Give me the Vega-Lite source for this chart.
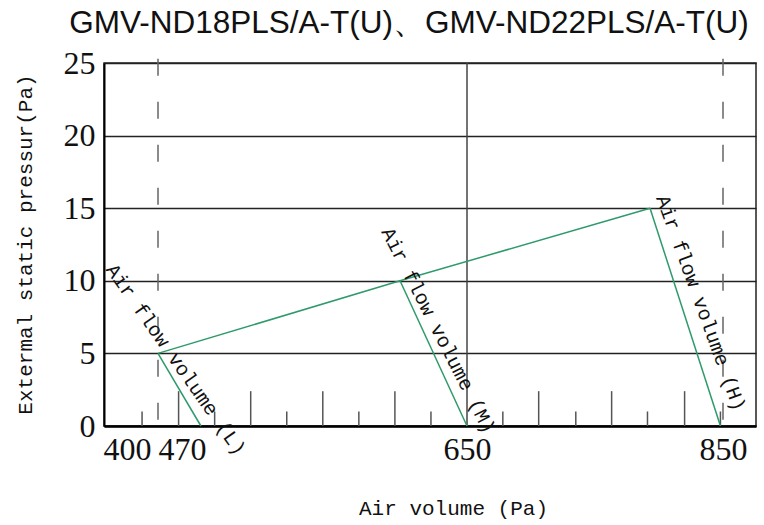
{
  "$schema": "https://vega.github.io/schema/vega-lite/v6.json",
  "autosize": "none",
  "padding": {"left": 104, "top": 63, "right": 8, "bottom": 99},
  "width": 652,
  "height": 363,
  "config": {"view": {"stroke": "#222", "strokeWidth": 1.5}},
  "title": {"text": "GMV-ND18PLS/A-T(U)、GMV-ND22PLS/A-T(U)", "font": "Liberation Sans", "fontSize": 31.5, "fontWeight": "normal", "color": "#111", "anchor": "middle", "dx": -21, "offset": 8},
  "datasets": {
    "ticks": [
      {"x": 434, "kind": "minor"}, {"x": 482, "kind": "major"}, {"x": 503, "kind": "minor"},
      {"x": 524, "kind": "major"}, {"x": 545, "kind": "minor"}, {"x": 566, "kind": "major"},
      {"x": 587, "kind": "minor"}, {"x": 608, "kind": "major"}, {"x": 629, "kind": "minor"},
      {"x": 678, "kind": "minor"}, {"x": 706, "kind": "major"}, {"x": 735, "kind": "minor"},
      {"x": 763, "kind": "major"}, {"x": 791, "kind": "minor"}, {"x": 820, "kind": "major"},
      {"x": 848, "kind": "minor"}
    ],
    "vlines": [
      {"x": 470, "kind": "dashed"}, {"x": 850, "kind": "dashed"}, {"x": 650, "kind": "solid"}
    ],
    "curve": [
      {"series": "top", "x": 470, "y": 5}, {"series": "top", "x": 611, "y": 10}, {"series": "top", "x": 793, "y": 15},
      {"series": "L", "x": 470, "y": 5}, {"series": "L", "x": 495, "y": 0},
      {"series": "M", "x": 611, "y": 10}, {"series": "M", "x": 650, "y": 0},
      {"series": "H", "x": 793, "y": 15}, {"series": "H", "x": 848, "y": 0}
    ],
    "labels": [
      {"level": "L", "text": "Air flow volume (L)", "x": 362, "y": 11.0},
      {"level": "M", "text": "Air flow volume (M)", "x": 603, "y": 13.57},
      {"level": "H", "text": "Air flow volume (H)", "x": 802, "y": 15.84}
    ]
  },
  "layer": [
    {
      "data": {"name": "ticks"},
      "transform": [{"filter": "datum.kind === 'major'"}],
      "mark": {"type": "rule", "color": "#555", "strokeWidth": 1.5},
      "encoding": {
        "x": {"field": "x", "type": "quantitative",
          "scale": {"domain": [348, 400, 470, 650, 850, 876], "range": [0, 23, 54, 363, 619, 652], "nice": false, "zero": false},
          "axis": {
            "values": [400, 470, 650, 850],
            "title": "Air volume (Pa)",
            "titleFont": "Liberation Mono", "titleFontSize": 21, "titleFontWeight": "normal", "titleColor": "#111",
            "titleX": 349, "titleY": 82, "titleBaseline": "middle", "titleAlign": "center",
            "labelFont": "Liberation Serif", "labelFontSize": 32, "labelColor": "#111",
            "labelPadding": 8, "labelOverlap": false, "labelFlush": false,
            "labelAlign": {"condition": {"test": "datum.value === 470", "value": "left"}, "value": "center"},
            "ticks": false, "grid": false,
            "domainColor": "#000", "domainWidth": 2.5
          }},
        "y": {"datum": 0, "type": "quantitative",
          "scale": {"domain": [0, 25], "nice": false},
          "axis": {
            "values": [0, 5, 10, 15, 20, 25],
            "title": "Extermal static pressur(Pa)",
            "titleFont": "Liberation Mono", "titleFontSize": 21, "titleFontWeight": "normal", "titleColor": "#111",
            "titleX": -79, "titleY": 181, "titleAngle": -90, "titleBaseline": "middle", "titleAlign": "center",
            "labelFont": "Liberation Serif", "labelFontSize": 32, "labelColor": "#111",
            "labelPadding": 9, "labelOverlap": false, "labelFlush": false,
            "ticks": false, "grid": true, "gridColor": "#222", "gridWidth": 1.3,
            "domainColor": "#000", "domainWidth": 2
          }},
        "y2": {"datum": 2.4}
      }
    },
    {
      "data": {"name": "ticks"},
      "transform": [{"filter": "datum.kind === 'minor'"}],
      "mark": {"type": "rule", "color": "#555", "strokeWidth": 1.5},
      "encoding": {
        "x": {"field": "x", "type": "quantitative"},
        "y": {"datum": 0, "type": "quantitative"},
        "y2": {"datum": 1.0}
      }
    },
    {
      "data": {"name": "vlines"},
      "transform": [{"filter": "datum.kind === 'dashed'"}],
      "mark": {"type": "rule", "color": "#666", "strokeWidth": 1.5, "strokeDash": [17, 26]},
      "encoding": {
        "x": {"field": "x", "type": "quantitative"},
        "y": {"datum": 25.3, "type": "quantitative"},
        "y2": {"datum": 0}
      }
    },
    {
      "data": {"name": "vlines"},
      "transform": [{"filter": "datum.kind === 'solid'"}],
      "mark": {"type": "rule", "color": "#444", "strokeWidth": 1.5},
      "encoding": {
        "x": {"field": "x", "type": "quantitative"},
        "y": {"datum": 25, "type": "quantitative"},
        "y2": {"datum": 0}
      }
    },
    {
      "data": {"name": "curve"},
      "mark": {"type": "line", "color": "#2e9a6b", "strokeWidth": 1.5},
      "encoding": {
        "x": {"field": "x", "type": "quantitative"},
        "y": {"field": "y", "type": "quantitative"},
        "detail": {"field": "series"}
      }
    },
    {
      "data": {"name": "labels"},
      "transform": [{"filter": "datum.level === 'L'"}],
      "mark": {"type": "text", "font": "Liberation Mono", "fontSize": 20, "color": "#111", "align": "left", "baseline": "middle", "angle": 55},
      "encoding": {
        "x": {"field": "x", "type": "quantitative"},
        "y": {"field": "y", "type": "quantitative"},
        "text": {"field": "text"}
      }
    },
    {
      "data": {"name": "labels"},
      "transform": [{"filter": "datum.level === 'M'"}],
      "mark": {"type": "text", "font": "Liberation Mono", "fontSize": 20, "color": "#111", "align": "left", "baseline": "middle", "angle": 63},
      "encoding": {
        "x": {"field": "x", "type": "quantitative"},
        "y": {"field": "y", "type": "quantitative"},
        "text": {"field": "text"}
      }
    },
    {
      "data": {"name": "labels"},
      "transform": [{"filter": "datum.level === 'H'"}],
      "mark": {"type": "text", "font": "Liberation Mono", "fontSize": 20, "color": "#111", "align": "left", "baseline": "middle", "angle": 70},
      "encoding": {
        "x": {"field": "x", "type": "quantitative"},
        "y": {"field": "y", "type": "quantitative"},
        "text": {"field": "text"}
      }
    }
  ]
}
